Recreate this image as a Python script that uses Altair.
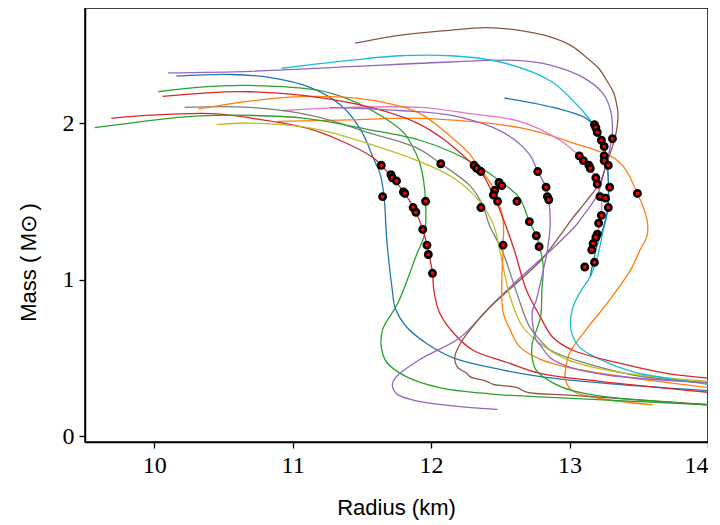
import altair as alt
import pandas as pd

# ---- data (Radius in km, Mass in solar masses) ----
blue1_R = [10.16, 10.55, 10.84, 11.12, 11.34, 11.49, 11.59, 11.63, 11.66, 11.68, 11.72, 11.74, 11.82, 11.97, 12.16, 12.42, 12.79, 13.22, 14.0]
blue1_M = [2.30, 2.31, 2.29, 2.23, 2.12, 1.96, 1.76, 1.68, 1.53, 1.25, 0.93, 0.82, 0.70, 0.59, 0.50, 0.44, 0.38, 0.34, 0.29]

orange1_R = [10.89, 11.41, 11.92, 12.64, 13.00, 13.36, 13.49, 13.56, 13.56, 13.51, 13.44, 13.29, 13.12, 13.00, 12.97, 12.97, 13.02, 13.22, 13.60]
orange1_M = [2.01, 2.02, 2.03, 1.97, 1.88, 1.75, 1.55, 1.38, 1.28, 1.19, 1.06, 0.87, 0.68, 0.53, 0.42, 0.36, 0.29, 0.24, 0.20]

green1_R = [10.03, 10.33, 10.69, 11.18, 11.41, 11.65, 11.80, 11.86, 11.92, 11.96, 11.95, 11.90, 11.76, 11.65, 11.64, 11.68, 11.82, 12.06, 12.42, 12.79, 14.0]
green1_M = [2.20, 2.23, 2.24, 2.21, 2.15, 2.04, 1.94, 1.86, 1.74, 1.50, 1.28, 1.17, 0.85, 0.68, 0.57, 0.47, 0.38, 0.31, 0.27, 0.25, 0.20]

red1_R = [9.69, 9.97, 10.42, 10.71, 11.09, 11.34, 11.58, 11.64, 11.72, 11.81, 11.89, 11.94, 11.97, 12.01, 12.02, 12.06, 12.16, 12.30, 12.55, 12.79, 13.22, 14.0]
red1_M = [2.03, 2.05, 2.06, 2.03, 1.97, 1.89, 1.78, 1.73, 1.65, 1.55, 1.43, 1.32, 1.22, 1.04, 0.93, 0.79, 0.66, 0.55, 0.47, 0.40, 0.35, 0.28]

purple1_R = [10.10, 10.69, 11.41, 12.14, 12.62, 12.86, 13.10, 13.24, 13.29, 13.31, 13.29, 13.25, 13.20, 13.10, 13.05, 12.88, 12.64, 12.42, 12.21, 11.92, 11.75, 11.72, 11.75, 11.87, 12.19, 12.48]
purple1_M = [2.32, 2.33, 2.36, 2.39, 2.40, 2.37, 2.29, 2.19, 2.10, 1.96, 1.83, 1.69, 1.54, 1.41, 1.35, 1.20, 1.01, 0.82, 0.63, 0.49, 0.38, 0.33, 0.27, 0.23, 0.19, 0.17]

brown_R = [11.45, 11.77, 12.10, 12.40, 12.65, 12.86, 13.02, 13.12, 13.21, 13.27, 13.32, 13.34, 13.35, 13.33, 13.27, 13.22, 13.12, 13.02, 12.93, 12.79, 12.42, 12.30, 12.21, 12.17, 12.19, 12.26, 12.28, 12.40, 12.45, 12.62, 12.69, 13.02, 14.0]
brown_M = [2.51, 2.56, 2.59, 2.61, 2.59, 2.55, 2.49, 2.42, 2.35, 2.27, 2.19, 2.12, 2.06, 1.91, 1.75, 1.62, 1.50, 1.39, 1.28, 1.12, 0.82, 0.70, 0.59, 0.50, 0.44, 0.40, 0.38, 0.35, 0.33, 0.31, 0.28, 0.26, 0.20]

pink_R = [10.93, 11.41, 11.92, 12.28, 12.64, 12.93, 13.07, 13.15, 13.20, 13.23, 13.23, 13.20, 13.19]
pink_M = [2.08, 2.10, 2.10, 2.06, 2.01, 1.89, 1.79, 1.71, 1.61, 1.51, 1.41, 1.28, 1.22]

gray_R = [10.22, 10.69, 11.18, 11.54, 11.90, 12.07, 12.28, 12.37, 12.42, 12.52, 12.62, 12.71, 12.79, 12.86, 13.10, 13.46, 14.0]
gray_M = [2.10, 2.10, 2.04, 1.94, 1.84, 1.74, 1.60, 1.48, 1.35, 1.17, 0.91, 0.70, 0.61, 0.55, 0.47, 0.39, 0.34]

olive_R = [10.45, 10.69, 11.18, 11.54, 11.90, 12.16, 12.35, 12.45, 12.50, 12.57, 12.66, 12.79, 12.98, 13.34, 14.0]
olive_M = [1.99, 2.00, 1.96, 1.87, 1.76, 1.65, 1.50, 1.35, 1.17, 0.89, 0.70, 0.59, 0.49, 0.41, 0.35]

cyan_R = [10.92, 11.41, 11.77, 12.14, 12.50, 12.86, 13.05, 13.17, 13.23, 13.26, 13.28, 13.27, 13.24, 13.20, 13.15, 13.07, 13.02, 13.01, 13.07, 13.22, 13.46, 13.70, 14.0]
cyan_M = [2.35, 2.40, 2.43, 2.43, 2.39, 2.27, 2.12, 1.99, 1.88, 1.76, 1.64, 1.42, 1.30, 1.14, 1.02, 0.91, 0.81, 0.68, 0.57, 0.49, 0.41, 0.37, 0.33]

blue2_R = [12.53, 12.88, 13.12, 13.19, 13.24, 13.27, 13.28, 13.28, 13.25, 13.20, 13.17, 13.15]
blue2_M = [2.16, 2.10, 2.03, 1.97, 1.88, 1.76, 1.64, 1.48, 1.35, 1.22, 1.11, 1.02]

orange2_R = [10.32, 10.69, 11.09, 11.54, 11.90, 12.16, 12.28, 12.35, 12.44, 12.48, 12.52, 12.52, 12.51, 12.52, 12.57, 12.64, 12.79, 12.98, 13.46, 14.0]
orange2_M = [2.09, 2.14, 2.17, 2.15, 2.07, 1.90, 1.80, 1.71, 1.60, 1.51, 1.38, 1.21, 0.95, 0.79, 0.68, 0.57, 0.49, 0.44, 0.37, 0.31]

green2_R = [9.57, 10.22, 10.58, 11.09, 11.54, 11.92, 12.16, 12.40, 12.57, 12.64, 12.71, 12.76, 12.79, 12.81, 12.80, 12.79, 12.73, 12.73, 12.76, 12.88, 13.02, 13.27, 14.0]
green2_M = [1.97, 2.04, 2.05, 2.03, 1.96, 1.89, 1.81, 1.69, 1.58, 1.52, 1.37, 1.28, 1.19, 1.08, 0.93, 0.76, 0.59, 0.50, 0.42, 0.34, 0.29, 0.25, 0.20]

red2_R = [10.06, 10.69, 11.41, 11.90, 12.10, 12.31, 12.36, 12.45, 12.52, 12.60, 12.69, 12.79, 12.88, 13.02, 13.34, 13.70, 14.0]
red2_M = [2.17, 2.20, 2.13, 2.00, 1.89, 1.73, 1.69, 1.54, 1.39, 1.19, 0.93, 0.76, 0.63, 0.55, 0.47, 0.40, 0.37]

purple2_R = [11.27, 11.77, 12.14, 12.52, 12.71, 12.77, 12.83, 12.85, 12.86, 12.84, 12.79, 12.76, 12.73, 12.76, 12.79, 12.86, 13.00, 13.27, 14.0]
purple2_M = [2.10, 2.08, 2.05, 1.94, 1.80, 1.69, 1.59, 1.51, 1.35, 1.19, 0.98, 0.87, 0.79, 0.61, 0.58, 0.50, 0.44, 0.39, 0.34]

# observed points (red dots)
dot_R = [11.64, 11.71, 11.72, 11.75, 11.80, 11.81, 11.87, 11.89, 11.65, 11.96, 11.94, 11.97, 11.98, 12.01,
         12.07, 12.31, 12.33, 12.36, 12.49, 12.51, 12.46, 12.45, 12.48, 12.36, 12.52, 12.62, 12.71, 12.76,
         12.78, 12.77, 12.83, 12.84, 12.85,
         13.18, 13.19, 13.20, 13.23, 13.25, 13.31, 13.25, 13.25, 13.28, 13.07, 13.10, 13.14, 13.15, 13.19,
         13.20, 13.29, 13.22, 13.26, 13.28, 13.23, 13.21, 13.20, 13.19, 13.17, 13.16, 13.18, 13.11, 13.49]
dot_M = [1.73, 1.67, 1.65, 1.63, 1.56, 1.55, 1.46, 1.43, 1.53, 1.50, 1.32, 1.22, 1.16, 1.04,
         1.74, 1.73, 1.71, 1.69, 1.62, 1.60, 1.57, 1.54, 1.50, 1.46, 1.22, 1.50, 1.37, 1.28,
         1.21, 1.69, 1.59, 1.53, 1.51,
         1.99, 1.97, 1.94, 1.89, 1.85, 1.90, 1.79, 1.76, 1.73, 1.79, 1.76, 1.73, 1.71, 1.65,
         1.61, 1.59, 1.53, 1.52, 1.46, 1.41, 1.36, 1.29, 1.27, 1.23, 1.19, 1.11, 1.08, 1.55]

x_ticks = [10, 11, 12, 13, 14]
y_ticks = [0, 1, 2]

# ---- build tables ----
curves = [
    ("c01", "#1f77b4", blue1_R, blue1_M),
    ("c02", "#ff7f0e", orange1_R, orange1_M),
    ("c03", "#2ca02c", green1_R, green1_M),
    ("c04", "#d62728", red1_R, red1_M),
    ("c05", "#9467bd", purple1_R, purple1_M),
    ("c06", "#8c564b", brown_R, brown_M),
    ("c07", "#e377c2", pink_R, pink_M),
    ("c08", "#7f7f7f", gray_R, gray_M),
    ("c09", "#bcbd22", olive_R, olive_M),
    ("c10", "#17becf", cyan_R, cyan_M),
    ("c11", "#1f77b4", blue2_R, blue2_M),
    ("c12", "#ff7f0e", orange2_R, orange2_M),
    ("c13", "#2ca02c", green2_R, green2_M),
    ("c14", "#d62728", red2_R, red2_M),
    ("c15", "#9467bd", purple2_R, purple2_M),
]
rows = []
for name, col, rr, mm in curves:
    for i, (r, m) in enumerate(zip(rr, mm)):
        rows.append({"curve": name, "i": i, "R": r, "M": m})
lines_df = pd.DataFrame(rows)
dots_df = pd.DataFrame({"R": dot_R, "M": dot_M})

names = [c[0] for c in curves]
colors = [c[1] for c in curves]

xscale = alt.Scale(domain=[9.5, 14.0], nice=False, zero=False)
yscale = alt.Scale(domain=[-0.038, 2.735], nice=False, zero=False)

xaxis = alt.Axis(values=x_ticks, title="Radius (km)", format="d",
                 titleX=311, titleY=65, titleBaseline="middle", titleAlign="center")
yaxis = alt.Axis(values=y_ticks, title="Mass (\u2009M\u2299\u2009)", format="d",
                 titleX=-57, titleY=254, titleBaseline="middle", titleAlign="center", titleAngle=270)

color = alt.Color("curve:N", scale=alt.Scale(domain=names, range=colors), legend=None)

lines = alt.Chart(lines_df).mark_line(
    strokeWidth=1.3, clip=True, interpolate="catmull-rom"
).encode(
    x=alt.X("R:Q", scale=xscale, axis=xaxis),
    y=alt.Y("M:Q", scale=yscale, axis=yaxis),
    color=color,
    order="i:Q",
)
dots = alt.Chart(dots_df).mark_point(
    filled=True, fill="#ff0000", stroke="black", strokeWidth=2.6, size=40, opacity=1, shape="circle"
).encode(
    x=alt.X("R:Q", scale=xscale),
    y=alt.Y("M:Q", scale=yscale),
)

chart = alt.layer(lines, dots).properties(
    width=623, height=434,
    autosize=alt.AutoSizeParams(type="none"),
    padding={"left": 77, "top": 0, "right": 0, "bottom": 82},
).configure_view(
    stroke="black", strokeWidth=1.5
).configure_axis(
    grid=False, domainColor="black", domainWidth=1.5, tickColor="black", tickWidth=1.3, tickSize=6,
    labelColor="black", labelFont="Liberation Serif", labelFontSize=24, labelPadding=5,
    titleColor="black", titleFont="Liberation Sans", titleFontSize=22, titleFontWeight="normal",
)

chart.save("out.html", embed_options={"renderer": "svg", "actions": False})
